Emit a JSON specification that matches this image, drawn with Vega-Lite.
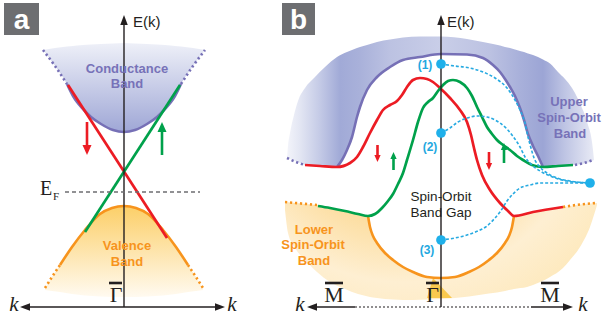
{
"$schema": "https://vega.github.io/schema/vega-lite/v6.json",
"width": 605, "height": 317,
"autosize": {"type": "fit", "contains": "padding"},
"padding": 0,
"background": "white",
"config": {"view": {"stroke": null}},
"encoding": {
  "x": {"field": "x", "type": "quantitative", "scale": {"domain": [0, 605], "nice": false, "zero": false}, "axis": null},
  "y": {"field": "y", "type": "quantitative", "scale": {"domain": [0, 317], "nice": false, "zero": false, "reverse": true}, "axis": null}
},
"datasets": {
  "fac": [
    {"x":43,"y":50,"y2":50},{"x":55,"y":48,"y2":66},{"x":67,"y":46.5,"y2":84},{"x":73,"y":46,"y2":96},{"x":77,"y":45.5,"y2":102},{"x":83,"y":45,"y2":109},{"x":91,"y":44.5,"y2":117},{"x":101,"y":44,"y2":124},{"x":113,"y":43.5,"y2":130},{"x":124,"y":43,"y2":132},{"x":135,"y":43.5,"y2":130},{"x":147,"y":44,"y2":124},{"x":157,"y":44.5,"y2":117},{"x":165,"y":45,"y2":109},{"x":171,"y":45.5,"y2":102},{"x":175,"y":46,"y2":96},{"x":181,"y":46.5,"y2":84},{"x":193,"y":48,"y2":66},{"x":205,"y":50,"y2":50}
  ],
  "fav": [
    {"x":45,"y":288,"y2":290},{"x":52,"y":277,"y2":291},{"x":60,"y":265,"y2":292},{"x":72,"y":247,"y2":294},{"x":85,"y":230,"y2":295.5},{"x":100,"y":214,"y2":296.5},{"x":112,"y":208,"y2":297},{"x":124,"y":206,"y2":297},{"x":136,"y":208,"y2":297},{"x":148,"y":214,"y2":296.5},{"x":163,"y":230,"y2":295.5},{"x":176,"y":247,"y2":294},{"x":188,"y":265,"y2":292},{"x":196,"y":277,"y2":291},{"x":203,"y":288,"y2":290}
  ],
  "fbu": [
    {"x":287,"y":158,"y2":158},{"x":288,"y":146,"y2":158.3},{"x":290,"y":133,"y2":159},{"x":294,"y":115,"y2":160.5},{"x":298,"y":101,"y2":162},{"x":305,"y":88,"y2":165},{"x":315,"y":77,"y2":166},{"x":325,"y":67,"y2":166.5},{"x":337,"y":57,"y2":167},{"x":347,"y":52,"y2":150},{"x":352,"y":50,"y2":137},{"x":357,"y":48,"y2":117},{"x":360,"y":47,"y2":107},{"x":367,"y":45,"y2":90},{"x":377,"y":42,"y2":77},{"x":390,"y":39.5,"y2":67},{"x":403,"y":37.5,"y2":60},{"x":420,"y":36.5,"y2":57},{"x":441,"y":36.5,"y2":54},{"x":467,"y":39,"y2":54.5},{"x":483,"y":42,"y2":58},{"x":493,"y":44,"y2":65},{"x":500,"y":45.5,"y2":72},{"x":505,"y":47,"y2":79},{"x":510,"y":48,"y2":87},{"x":515,"y":49.5,"y2":96},{"x":520,"y":51,"y2":108},{"x":524,"y":52,"y2":120},{"x":528,"y":53.5,"y2":134},{"x":533,"y":55,"y2":146},{"x":538,"y":57,"y2":156},{"x":543,"y":59.5,"y2":167},{"x":550,"y":63.5,"y2":166.5},{"x":558,"y":72,"y2":166},{"x":565,"y":79,"y2":165.5},{"x":572,"y":88,"y2":165},{"x":578,"y":99,"y2":164.5},{"x":582,"y":108,"y2":164},{"x":586,"y":118,"y2":163},{"x":588,"y":125,"y2":162.5},{"x":591,"y":136,"y2":161.5},{"x":592,"y":142,"y2":161},{"x":593,"y":150,"y2":160.5},{"x":594,"y":160,"y2":160}
  ],
  "fbl": [
    {"x":285,"y":202,"y2":210},{"x":288,"y":202.3,"y2":233},{"x":295,"y":203,"y2":248},{"x":301,"y":203.5,"y2":256},{"x":305,"y":203.9,"y2":260},{"x":317,"y":205,"y2":272},{"x":330,"y":208,"y2":282},{"x":345,"y":211,"y2":289},{"x":358,"y":214,"y2":294},{"x":368,"y":216,"y2":296.5},{"x":370,"y":227,"y2":297},{"x":373,"y":236,"y2":297.5},{"x":377,"y":243,"y2":298},{"x":385,"y":253,"y2":299},{"x":393,"y":260,"y2":299.5},{"x":403,"y":267,"y2":300},{"x":413,"y":272,"y2":300},{"x":427,"y":277,"y2":299.5},{"x":441,"y":278,"y2":299},{"x":455,"y":277,"y2":298},{"x":469,"y":272,"y2":296.5},{"x":479,"y":267,"y2":295},{"x":489,"y":260,"y2":293.5},{"x":497,"y":253,"y2":292.5},{"x":505,"y":243,"y2":291},{"x":509,"y":236,"y2":290},{"x":512,"y":227,"y2":289.5},{"x":514,"y":216,"y2":289},{"x":527,"y":213.5,"y2":287},{"x":533,"y":212,"y2":285},{"x":550,"y":209,"y2":277},{"x":563,"y":207,"y2":268},{"x":570,"y":206,"y2":260},{"x":580,"y":204.5,"y2":247},{"x":590,"y":203.5,"y2":227},{"x":597,"y":203,"y2":205}
  ],
  "gold": [
    {"x":427,"y":298,"y2":298},{"x":433,"y":278,"y2":298},{"x":452,"y":298,"y2":298}
  ],
  "ln": [
    {"s":"a_cond","x":67,"y":84},{"s":"a_cond","x":73,"y":96},{"s":"a_cond","x":77,"y":102},{"s":"a_cond","x":83,"y":109},{"s":"a_cond","x":91,"y":117},{"s":"a_cond","x":101,"y":124},{"s":"a_cond","x":113,"y":130},{"s":"a_cond","x":124,"y":132},{"s":"a_cond","x":135,"y":130},{"s":"a_cond","x":147,"y":124},{"s":"a_cond","x":157,"y":117},{"s":"a_cond","x":165,"y":109},{"s":"a_cond","x":171,"y":102},{"s":"a_cond","x":175,"y":96},{"s":"a_cond","x":181,"y":84},
    {"s":"a_cdl","x":43,"y":50},{"s":"a_cdl","x":55,"y":66},{"s":"a_cdl","x":67,"y":84},
    {"s":"a_cdr","x":181,"y":84},{"s":"a_cdr","x":193,"y":66},{"s":"a_cdr","x":205,"y":50},
    {"s":"a_val","x":60,"y":265},{"s":"a_val","x":72,"y":247},{"s":"a_val","x":85,"y":230},{"s":"a_val","x":100,"y":214},{"s":"a_val","x":112,"y":208},{"s":"a_val","x":124,"y":206},{"s":"a_val","x":136,"y":208},{"s":"a_val","x":148,"y":214},{"s":"a_val","x":163,"y":230},{"s":"a_val","x":176,"y":247},{"s":"a_val","x":188,"y":265},
    {"s":"a_vdl","x":45,"y":288},{"s":"a_vdl","x":52,"y":277},{"s":"a_vdl","x":60,"y":265},
    {"s":"a_vdr","x":188,"y":265},{"s":"a_vdr","x":196,"y":277},{"s":"a_vdr","x":203,"y":288},
    {"s":"a_red","x":68,"y":85},{"s":"a_red","x":167,"y":238},
    {"s":"a_grn","x":85,"y":232},{"s":"a_grn","x":180,"y":85},
    {"s":"b_up","x":337,"y":167},{"s":"b_up","x":342,"y":160},{"s":"b_up","x":347,"y":150},{"s":"b_up","x":352,"y":137},{"s":"b_up","x":357,"y":117},{"s":"b_up","x":360,"y":107},{"s":"b_up","x":367,"y":90},{"s":"b_up","x":377,"y":77},{"s":"b_up","x":390,"y":67},{"s":"b_up","x":403,"y":60},{"s":"b_up","x":420,"y":57},{"s":"b_up","x":441,"y":54},{"s":"b_up","x":467,"y":54.5},{"s":"b_up","x":483,"y":58},{"s":"b_up","x":493,"y":65},{"s":"b_up","x":500,"y":72},{"s":"b_up","x":505,"y":79},{"s":"b_up","x":510,"y":87},{"s":"b_up","x":515,"y":96},{"s":"b_up","x":520,"y":108},{"s":"b_up","x":524,"y":120},{"s":"b_up","x":528,"y":134},{"s":"b_up","x":533,"y":146},{"s":"b_up","x":538,"y":156},{"s":"b_up","x":543,"y":167},
    {"s":"b_udl","x":287,"y":158},{"s":"b_udl","x":296,"y":162},{"s":"b_udl","x":305,"y":165},
    {"s":"b_udr","x":575,"y":165},{"s":"b_udr","x":584,"y":163},{"s":"b_udr","x":593,"y":160},
    {"s":"b_lo","x":368,"y":216},{"s":"b_lo","x":370,"y":227},{"s":"b_lo","x":373,"y":236},{"s":"b_lo","x":377,"y":243},{"s":"b_lo","x":385,"y":253},{"s":"b_lo","x":393,"y":260},{"s":"b_lo","x":403,"y":267},{"s":"b_lo","x":413,"y":272},{"s":"b_lo","x":427,"y":277},{"s":"b_lo","x":441,"y":278},{"s":"b_lo","x":455,"y":277},{"s":"b_lo","x":469,"y":272},{"s":"b_lo","x":479,"y":267},{"s":"b_lo","x":489,"y":260},{"s":"b_lo","x":497,"y":253},{"s":"b_lo","x":505,"y":243},{"s":"b_lo","x":509,"y":236},{"s":"b_lo","x":512,"y":227},{"s":"b_lo","x":514,"y":216},
    {"s":"b_ldl","x":285,"y":202},{"s":"b_ldl","x":301,"y":203.5},{"s":"b_ldl","x":317,"y":205},
    {"s":"b_ldr","x":563,"y":207},{"s":"b_ldr","x":580,"y":204.5},{"s":"b_ldr","x":597,"y":203},
    {"s":"b_red","x":305,"y":165},{"s":"b_red","x":320,"y":166},{"s":"b_red","x":337,"y":167},{"s":"b_red","x":350,"y":163},{"s":"b_red","x":357,"y":157},{"s":"b_red","x":363,"y":147},{"s":"b_red","x":370,"y":133},{"s":"b_red","x":377,"y":120},{"s":"b_red","x":383,"y":110},{"s":"b_red","x":390,"y":105},{"s":"b_red","x":397,"y":101},{"s":"b_red","x":402,"y":95},{"s":"b_red","x":407,"y":87},{"s":"b_red","x":413,"y":80},{"s":"b_red","x":420,"y":78},{"s":"b_red","x":427,"y":79},{"s":"b_red","x":433,"y":82},{"s":"b_red","x":440,"y":88},{"s":"b_red","x":450,"y":98},{"s":"b_red","x":460,"y":110},{"s":"b_red","x":467,"y":122},{"s":"b_red","x":471,"y":135},{"s":"b_red","x":474,"y":148},{"s":"b_red","x":477,"y":160},{"s":"b_red","x":482,"y":175},{"s":"b_red","x":490,"y":190},{"s":"b_red","x":500,"y":203},{"s":"b_red","x":508,"y":211},{"s":"b_red","x":514,"y":216},{"s":"b_red","x":533,"y":212},{"s":"b_red","x":563,"y":207},
    {"s":"b_grn","x":318,"y":206},{"s":"b_grn","x":330,"y":208},{"s":"b_grn","x":345,"y":211},{"s":"b_grn","x":358,"y":214},{"s":"b_grn","x":368,"y":216},{"s":"b_grn","x":375,"y":214},{"s":"b_grn","x":382,"y":208},{"s":"b_grn","x":388,"y":201},{"s":"b_grn","x":393,"y":194},{"s":"b_grn","x":398,"y":184},{"s":"b_grn","x":403,"y":173},{"s":"b_grn","x":407,"y":160},{"s":"b_grn","x":413,"y":140},{"s":"b_grn","x":418,"y":122},{"s":"b_grn","x":423,"y":108},{"s":"b_grn","x":428,"y":102},{"s":"b_grn","x":433,"y":98},{"s":"b_grn","x":438,"y":91},{"s":"b_grn","x":443,"y":85},{"s":"b_grn","x":448,"y":81},{"s":"b_grn","x":453,"y":80},{"s":"b_grn","x":460,"y":82},{"s":"b_grn","x":467,"y":88},{"s":"b_grn","x":472,"y":96},{"s":"b_grn","x":477,"y":107},{"s":"b_grn","x":482,"y":117},{"s":"b_grn","x":487,"y":127},{"s":"b_grn","x":492,"y":134},{"s":"b_grn","x":497,"y":140},{"s":"b_grn","x":503,"y":145},{"s":"b_grn","x":510,"y":150},{"s":"b_grn","x":517,"y":156},{"s":"b_grn","x":523,"y":160},{"s":"b_grn","x":532,"y":165},{"s":"b_grn","x":543,"y":167},{"s":"b_grn","x":558,"y":166},{"s":"b_grn","x":573,"y":165},
    {"s":"c1","x":441,"y":64},{"s":"c1","x":455,"y":66},{"s":"c1","x":470,"y":68},{"s":"c1","x":483,"y":72},{"s":"c1","x":495,"y":78},{"s":"c1","x":507,"y":88},{"s":"c1","x":515,"y":100},{"s":"c1","x":520,"y":110},{"s":"c1","x":525,"y":123},{"s":"c1","x":528,"y":137},{"s":"c1","x":531,"y":148},{"s":"c1","x":534,"y":158},{"s":"c1","x":539,"y":166},{"s":"c1","x":547,"y":173},{"s":"c1","x":557,"y":178},{"s":"c1","x":570,"y":181},{"s":"c1","x":590,"y":183},
    {"s":"c2","x":441,"y":133},{"s":"c2","x":450,"y":128},{"s":"c2","x":458,"y":122},{"s":"c2","x":467,"y":118},{"s":"c2","x":477,"y":116},{"s":"c2","x":487,"y":117},{"s":"c2","x":495,"y":120},{"s":"c2","x":500,"y":123},{"s":"c2","x":507,"y":129},{"s":"c2","x":512,"y":135},{"s":"c2","x":517,"y":142},{"s":"c2","x":520,"y":147},{"s":"c2","x":525,"y":157},{"s":"c2","x":532,"y":165},{"s":"c2","x":540,"y":171},{"s":"c2","x":550,"y":176},{"s":"c2","x":567,"y":181},{"s":"c2","x":590,"y":183},
    {"s":"c3","x":441,"y":240},{"s":"c3","x":455,"y":238},{"s":"c3","x":467,"y":235},{"s":"c3","x":478,"y":231},{"s":"c3","x":487,"y":226},{"s":"c3","x":495,"y":218},{"s":"c3","x":500,"y":212},{"s":"c3","x":507,"y":201},{"s":"c3","x":513,"y":194},{"s":"c3","x":520,"y":188},{"s":"c3","x":530,"y":185},{"s":"c3","x":540,"y":183},{"s":"c3","x":560,"y":183},{"s":"c3","x":590,"y":183}
  ],
  "rl": [
    {"g":"axis","x":124,"y":307,"x2":124,"y2":22},
    {"g":"axis","x":24,"y":307,"x2":221,"y2":307},
    {"g":"axis","x":441,"y":307,"x2":441,"y2":22},
    {"g":"axis","x":311,"y":307,"x2":355,"y2":307},
    {"g":"axis","x":531,"y":307,"x2":569,"y2":307},
    {"g":"axdot","x":355,"y":307,"x2":531,"y2":307},
    {"g":"ef","x":65,"y":192,"x2":200,"y2":192},
    {"g":"bar","x":109,"y":283,"x2":122,"y2":283},
    {"g":"bar","x":426,"y":283,"x2":439,"y2":283},
    {"g":"bar","x":325,"y":283,"x2":343,"y2":283},
    {"g":"bar","x":541,"y":283,"x2":559,"y2":283},
    {"g":"red","x":87,"y":122,"x2":87,"y2":147},
    {"g":"red","x":377.5,"y":145,"x2":377.5,"y2":157},
    {"g":"red","x":489,"y":152,"x2":489,"y2":164},
    {"g":"green","x":162,"y":155,"x2":162,"y2":130},
    {"g":"green","x":393.5,"y":170,"x2":393.5,"y2":158},
    {"g":"green","x":504,"y":163,"x2":504,"y2":149}
  ],
  "hd": [
    {"g":"ax","x":124,"y":20,"d":"up"},{"g":"ax","x":441,"y":20,"d":"up"},
    {"g":"ax","x":25,"y":307,"d":"left"},{"g":"ax","x":220,"y":307,"d":"right"},
    {"g":"ax","x":312,"y":307,"d":"left"},{"g":"ax","x":568,"y":307,"d":"right"},
    {"g":"ra","x":87,"y":150,"d":"down"},{"g":"ga","x":162,"y":127,"d":"up"},
    {"g":"rb","x":377.5,"y":158.5,"d":"down"},{"g":"rb","x":489,"y":166.5,"d":"down"},
    {"g":"gb","x":393.5,"y":155.5,"d":"up"},{"g":"gb","x":504,"y":146.5,"d":"up"}
  ],
  "pts": [
    {"x":441,"y":64},{"x":441,"y":133},{"x":441,"y":240},{"x":590,"y":183}
  ],
  "box": [
    {"x":4,"x2":39,"y":3,"y2":35},{"x":282,"x2":315,"y":3,"y2":35}
  ],
  "tx": [
    {"g":"lbl","x":21.5,"y":28.5,"t":"a"},{"g":"lbl","x":298.5,"y":28.5,"t":"b"},
    {"g":"ek","x":133,"y":27,"t":"E(k)"},{"g":"ek","x":447,"y":27,"t":"E(k)"},
    {"g":"pu","x":127,"y":69,"t":"Conductance"},{"g":"pu","x":127,"y":84,"t":"Band"},
    {"g":"pu","x":569,"y":102,"t":"Upper"},{"g":"pu","x":569,"y":118,"t":"Spin-Orbit"},{"g":"pu","x":570,"y":134,"t":"Band"},
    {"g":"or","x":127,"y":246,"t":"Valence"},{"g":"or","x":127,"y":262,"t":"Band"},
    {"g":"or","x":314,"y":230,"t":"Lower"},{"g":"or","x":313,"y":245,"t":"Spin-Orbit"},{"g":"or","x":314,"y":261,"t":"Band"},
    {"g":"gap","x":441,"y":197,"t":"Spin-Orbit"},{"g":"gap","x":441,"y":213,"t":"Band Gap"},
    {"g":"num","x":425,"y":65,"t":"(1)"},{"g":"num","x":430,"y":147,"t":"(2)"},{"g":"num","x":427,"y":250,"t":"(3)"},
    {"g":"sym","x":116,"y":302,"t":"Γ"},{"g":"sym","x":432.5,"y":302,"t":"Γ"},{"g":"sym","x":334,"y":302,"t":"M"},{"g":"sym","x":550,"y":302,"t":"M"},
    {"g":"E","x":40,"y":195,"t":"E"},{"g":"F","x":53,"y":200,"t":"F"},
    {"g":"k","x":14,"y":311,"t":"k"},{"g":"k","x":232,"y":311,"t":"k"},{"g":"k","x":300,"y":311,"t":"k"},{"g":"k","x":583,"y":311,"t":"k"}
  ]
},
"layer": [
  {"data": {"name": "fac"}, "mark": {"type": "area", "interpolate": "monotone", "color": {"gradient": "linear", "x1": 0, "y1": 0, "x2": 0, "y2": 1, "stops": [{"offset": 0, "color": "#eef0f8"}, {"offset": 1, "color": "#9fa7d6"}]}}, "encoding": {"y2": {"field": "y2"}}},
  {"data": {"name": "fav"}, "mark": {"type": "area", "interpolate": "monotone", "color": {"gradient": "linear", "x1": 0, "y1": 0, "x2": 0, "y2": 1, "stops": [{"offset": 0, "color": "#fccf68"}, {"offset": 1, "color": "#fffaf0"}]}}, "encoding": {"y2": {"field": "y2"}}},
  {"data": {"name": "fbu"}, "mark": {"type": "area", "interpolate": "monotone", "color": {"gradient": "linear", "x1": 0, "y1": 0, "x2": 1, "y2": 0, "stops": [{"offset": 0, "color": "#f3f4fa"}, {"offset": 0.042, "color": "#e3e6f3"}, {"offset": 0.107, "color": "#c4cae6"}, {"offset": 0.173, "color": "#a1aad7"}, {"offset": 0.238, "color": "#a9b1da"}, {"offset": 0.336, "color": "#bcc2e2"}, {"offset": 0.5, "color": "#c9cee8"}, {"offset": 0.66, "color": "#bcc2e2"}, {"offset": 0.76, "color": "#a8b0da"}, {"offset": 0.834, "color": "#9ca5d5"}, {"offset": 0.906, "color": "#bfc5e4"}, {"offset": 1, "color": "#e8eaf5"}]}}, "encoding": {"y2": {"field": "y2"}}},
  {"data": {"name": "fbl"}, "mark": {"type": "area", "interpolate": "monotone", "color": {"gradient": "radial", "x1": 0.38, "y1": 0, "r1": 0, "x2": 0.38, "y2": 0, "r2": 1, "stops": [{"offset": 0.1, "color": "#f9c35c"}, {"offset": 0.35, "color": "#fcd891"}, {"offset": 0.6, "color": "#feefd2"}, {"offset": 0.85, "color": "#fde6b3"}, {"offset": 1, "color": "#fff8ea"}]}}, "encoding": {"y2": {"field": "y2"}}},
  {"data": {"name": "gold"}, "mark": {"type": "area", "color": "#f8c237", "opacity": 0.85}, "encoding": {"y2": {"field": "y2"}}},
  {"data": {"name": "ln"}, "transform": [{"filter": {"field": "s", "oneOf": ["a_cond", "b_up"]}}], "mark": {"type": "line", "interpolate": "monotone", "color": "#7670b6", "strokeWidth": 2.6}, "encoding": {"detail": {"field": "s"}}},
  {"data": {"name": "ln"}, "transform": [{"filter": {"field": "s", "oneOf": ["a_cdl", "a_cdr", "b_udl", "b_udr"]}}], "mark": {"type": "line", "interpolate": "monotone", "color": "#7670b6", "strokeWidth": 2.6, "strokeDash": [2.2, 2.8]}, "encoding": {"detail": {"field": "s"}}},
  {"data": {"name": "ln"}, "transform": [{"filter": {"field": "s", "oneOf": ["a_val", "b_lo"]}}], "mark": {"type": "line", "interpolate": "monotone", "color": "#f7941d", "strokeWidth": 2.6}, "encoding": {"detail": {"field": "s"}}},
  {"data": {"name": "ln"}, "transform": [{"filter": {"field": "s", "oneOf": ["a_vdl", "a_vdr", "b_ldl", "b_ldr"]}}], "mark": {"type": "line", "interpolate": "monotone", "color": "#f7941d", "strokeWidth": 2.6, "strokeDash": [2.2, 2.8]}, "encoding": {"detail": {"field": "s"}}},
  {"data": {"name": "ln"}, "transform": [{"filter": {"field": "s", "oneOf": ["a_red", "b_red"]}}], "mark": {"type": "line", "interpolate": "monotone", "color": "#ec1c24", "strokeWidth": 2.7}, "encoding": {"detail": {"field": "s"}}},
  {"data": {"name": "ln"}, "transform": [{"filter": {"field": "s", "oneOf": ["a_grn", "b_grn"]}}], "mark": {"type": "line", "interpolate": "monotone", "color": "#00a14b", "strokeWidth": 2.7}, "encoding": {"detail": {"field": "s"}}},
  {"data": {"name": "ln"}, "transform": [{"filter": {"field": "s", "oneOf": ["c1", "c2", "c3"]}}], "mark": {"type": "line", "interpolate": "monotone", "color": "#27aae1", "strokeWidth": 1.6, "strokeDash": [3, 2]}, "encoding": {"detail": {"field": "s"}}},
  {"data": {"name": "rl"}, "transform": [{"filter": "datum.g === 'axis'"}], "mark": {"type": "rule", "color": "#231f20", "strokeWidth": 1.4}, "encoding": {"x2": {"field": "x2"}, "y2": {"field": "y2"}}},
  {"data": {"name": "rl"}, "transform": [{"filter": "datum.g === 'axdot'"}], "mark": {"type": "rule", "color": "#231f20", "strokeWidth": 1.2, "strokeDash": [2, 2]}, "encoding": {"x2": {"field": "x2"}, "y2": {"field": "y2"}}},
  {"data": {"name": "rl"}, "transform": [{"filter": "datum.g === 'ef'"}], "mark": {"type": "rule", "color": "#6d6e71", "strokeWidth": 1.4, "strokeDash": [4, 3]}, "encoding": {"x2": {"field": "x2"}, "y2": {"field": "y2"}}},
  {"data": {"name": "rl"}, "transform": [{"filter": "datum.g === 'bar'"}], "mark": {"type": "rule", "color": "#231f20", "strokeWidth": 2.6}, "encoding": {"x2": {"field": "x2"}, "y2": {"field": "y2"}}},
  {"data": {"name": "rl"}, "transform": [{"filter": "datum.g === 'red'"}], "mark": {"type": "rule", "color": "#ec1c24", "strokeWidth": 2.6}, "encoding": {"x2": {"field": "x2"}, "y2": {"field": "y2"}}},
  {"data": {"name": "rl"}, "transform": [{"filter": "datum.g === 'green'"}], "mark": {"type": "rule", "color": "#00a14b", "strokeWidth": 2.6}, "encoding": {"x2": {"field": "x2"}, "y2": {"field": "y2"}}},
  {"data": {"name": "hd"}, "transform": [{"filter": "datum.g === 'ax'"}], "mark": {"type": "point", "filled": true, "opacity": 1, "color": "#231f20", "size": 100, "strokeWidth": 0}, "encoding": {"shape": {"field": "d", "type": "nominal", "legend": null, "scale": {"domain": ["up", "down", "left", "right"], "range": ["M0,-1L0.75,1L-0.75,1Z", "M0,1L0.75,-1L-0.75,-1Z", "M-1,0L1,-0.75L1,0.75Z", "M1,0L-1,-0.75L-1,0.75Z"]}}}},
  {"data": {"name": "hd"}, "transform": [{"filter": "datum.g === 'ra'"}], "mark": {"type": "point", "filled": true, "opacity": 1, "color": "#ec1c24", "size": 100, "strokeWidth": 0, "shape": "M0,1L0.9,-1L-0.9,-1Z"}},
  {"data": {"name": "hd"}, "transform": [{"filter": "datum.g === 'ga'"}], "mark": {"type": "point", "filled": true, "opacity": 1, "color": "#00a14b", "size": 100, "strokeWidth": 0, "shape": "M0,-1L0.9,1L-0.9,1Z"}},
  {"data": {"name": "hd"}, "transform": [{"filter": "datum.g === 'rb'"}], "mark": {"type": "point", "filled": true, "opacity": 1, "color": "#ec1c24", "size": 49, "strokeWidth": 0, "shape": "M0,1L0.9,-1L-0.9,-1Z"}},
  {"data": {"name": "hd"}, "transform": [{"filter": "datum.g === 'gb'"}], "mark": {"type": "point", "filled": true, "opacity": 1, "color": "#00a14b", "size": 49, "strokeWidth": 0, "shape": "M0,-1L0.9,1L-0.9,1Z"}},
  {"data": {"name": "pts"}, "mark": {"type": "point", "filled": true, "opacity": 1, "color": "#1fb0ea", "size": 95, "shape": "circle", "strokeWidth": 0}},
  {"data": {"name": "box"}, "mark": {"type": "rect", "color": "#6d6e71"}, "encoding": {"x2": {"field": "x2"}, "y2": {"field": "y2"}}},
  {"data": {"name": "tx"}, "transform": [{"filter": "datum.g === 'lbl'"}], "mark": {"type": "text", "font": "Liberation Sans", "fontSize": 28, "fontWeight": "bold", "color": "white", "align": "center", "baseline": "alphabetic"}, "encoding": {"text": {"field": "t"}}},
  {"data": {"name": "tx"}, "transform": [{"filter": "datum.g === 'ek'"}], "mark": {"type": "text", "font": "Liberation Sans", "fontSize": 15, "color": "#231f20", "align": "left", "baseline": "alphabetic"}, "encoding": {"text": {"field": "t"}}},
  {"data": {"name": "tx"}, "transform": [{"filter": "datum.g === 'pu'"}], "mark": {"type": "text", "font": "Liberation Sans", "fontSize": 13, "fontWeight": "bold", "color": "#7772b8", "align": "center", "baseline": "middle"}, "encoding": {"text": {"field": "t"}}},
  {"data": {"name": "tx"}, "transform": [{"filter": "datum.g === 'or'"}], "mark": {"type": "text", "font": "Liberation Sans", "fontSize": 13, "fontWeight": "bold", "color": "#f7941d", "align": "center", "baseline": "middle"}, "encoding": {"text": {"field": "t"}}},
  {"data": {"name": "tx"}, "transform": [{"filter": "datum.g === 'gap'"}], "mark": {"type": "text", "font": "Liberation Sans", "fontSize": 13.5, "color": "#231f20", "align": "center", "baseline": "middle"}, "encoding": {"text": {"field": "t"}}},
  {"data": {"name": "tx"}, "transform": [{"filter": "datum.g === 'num'"}], "mark": {"type": "text", "font": "Liberation Sans", "fontSize": 12, "fontWeight": "bold", "color": "#1fa8e0", "align": "center", "baseline": "middle"}, "encoding": {"text": {"field": "t"}}},
  {"data": {"name": "tx"}, "transform": [{"filter": "datum.g === 'sym'"}], "mark": {"type": "text", "font": "Liberation Serif", "fontSize": 22, "color": "#231f20", "align": "center", "baseline": "alphabetic"}, "encoding": {"text": {"field": "t"}}},
  {"data": {"name": "tx"}, "transform": [{"filter": "datum.g === 'E'"}], "mark": {"type": "text", "font": "Liberation Serif", "fontSize": 20, "color": "#231f20", "align": "left", "baseline": "alphabetic"}, "encoding": {"text": {"field": "t"}}},
  {"data": {"name": "tx"}, "transform": [{"filter": "datum.g === 'F'"}], "mark": {"type": "text", "font": "Liberation Serif", "fontSize": 11, "color": "#231f20", "align": "left", "baseline": "alphabetic"}, "encoding": {"text": {"field": "t"}}},
  {"data": {"name": "tx"}, "transform": [{"filter": "datum.g === 'k'"}], "mark": {"type": "text", "font": "Liberation Serif", "fontSize": 21, "fontStyle": "italic", "color": "#231f20", "align": "center", "baseline": "alphabetic"}, "encoding": {"text": {"field": "t"}}}
]
}
